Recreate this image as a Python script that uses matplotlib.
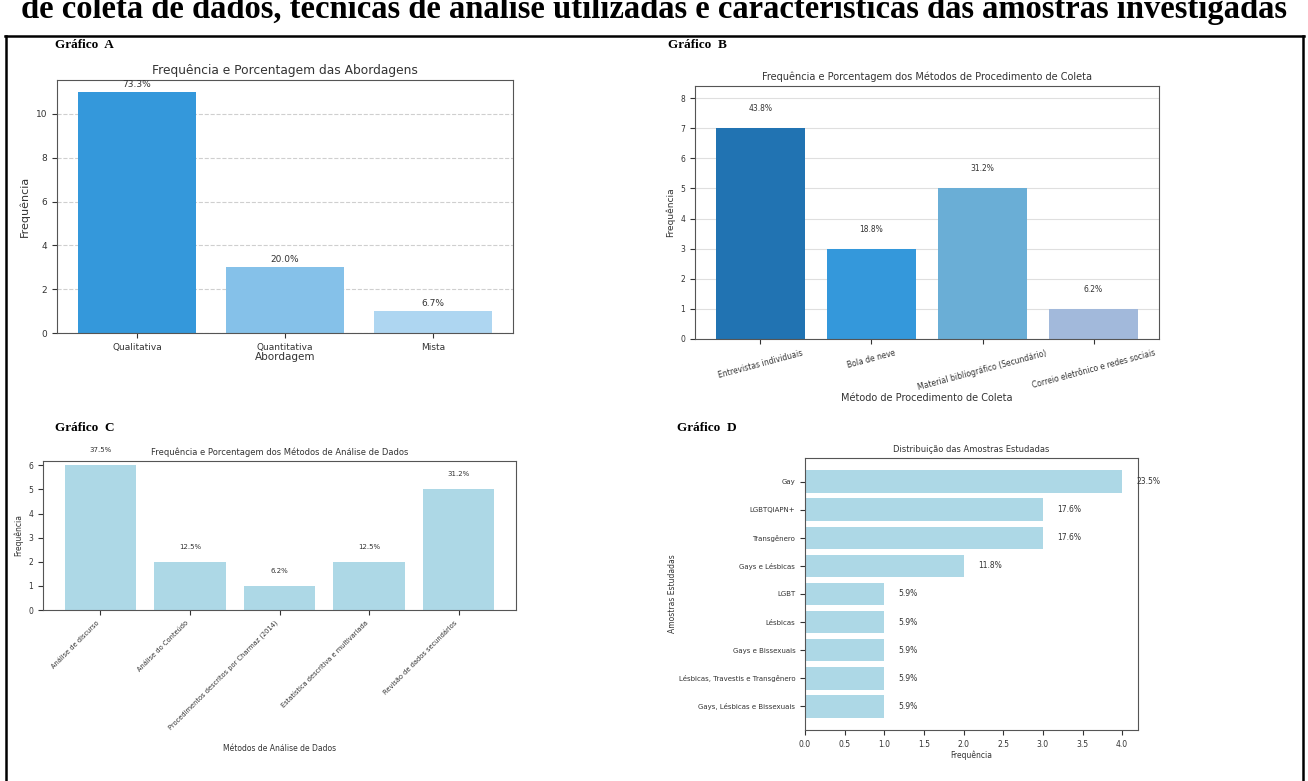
import matplotlib.pyplot as plt
from matplotlib.lines import Line2D

# Gráfico A
abordagens = ['Qualitativa', 'Quantitativa', 'Mista']
freq_abordagens = [11, 3, 1]
pct_abordagens = ['73.3%', '20.0%', '6.7%']

# Gráfico B
metodos_coleta = ['Entrevistas individuais', 'Bola de neve',
                  'Material bibliográfico (Secundário)',
                  'Correio eletrônico e redes sociais']
freq_coleta = [7, 3, 5, 1]
pct_coleta = ['43.8%', '18.8%', '31.2%', '6.2%']

# Gráfico C
metodos_analise = ['Análise de discurso', 'Análise do Conteúdo',
                   'Procedimentos descritos por Charmaz (2014)',
                   'Estatística descritiva e multivariada',
                   'Revisão de dados secundários']
freq_analise = [6, 2, 1, 2, 5]
pct_analise = ['37.5%', '12.5%', '6.2%', '12.5%', '31.2%']

# Gráfico D
amostras = ['Gay', 'LGBTQIAPN+', 'Transgênero', 'Gays e Lésbicas', 'LGBT',
            'Lésbicas', 'Gays e Bissexuais', 'Lésbicas, Travestis e Transgênero',
            'Gays, Lésbicas e Bissexuais']
freq_amostras = [4, 3, 3, 2, 1, 1, 1, 1, 1]
pct_amostras = ['23.5%', '17.6%', '17.6%', '11.8%', '5.9%', '5.9%', '5.9%', '5.9%', '5.9%']

TXT = '#333333'
W, H = 1308, 781
fig = plt.figure(figsize=(13.08, 7.81), dpi=100)

# cabeçalho (cortado no topo, como na figura original) e moldura
fig.text(0.5, 1 - 18 / H, 'de coleta de dados, técnicas de análise utilizadas e características das amostras investigadas',
         ha='center', va='baseline', fontsize=23.5, fontweight='bold', family='Liberation Serif')
for xs, ys in [([5, 1304], [36, 36]), ([6, 6], [36, 781]), ([1303, 1303], [36, 781])]:
    fig.add_artist(Line2D([x / W for x in xs], [1 - y / H for y in ys], color='black', lw=1.8))

def rotulo(x, y, s):
    fig.text(x / W, 1 - y / H, s, fontsize=9.5, fontweight='bold', family='Liberation Serif', va='center')

rotulo(55, 45, 'Gráfico  A')
rotulo(668, 45, 'Gráfico  B')
rotulo(55, 428, 'Gráfico  C')
rotulo(677, 428, 'Gráfico  D')

def estilo(ax):
    for s in ax.spines.values():
        s.set_color('#555555')
    ax.tick_params(colors=TXT)

# ---- A
ax = fig.add_axes([57 / W, 1 - 333 / H, 456 / W, 253 / H])
ax.bar(abordagens, freq_abordagens, color=['#3498db', '#85c1e9', '#aed6f1'], width=0.8)
ax.grid(axis='y', linestyle='--', alpha=0.6)
ax.set_axisbelow(True)
for i, v in enumerate(freq_abordagens):
    ax.text(i, v + 0.15, pct_abordagens[i], ha='center', va='bottom', fontsize=6.5, color=TXT)
ax.set_title('Frequência e Porcentagem das Abordagens', fontsize=8.8, color=TXT, pad=4)
ax.set_xlabel('Abordagem', fontsize=7.5, color=TXT, labelpad=0)
ax.set_ylabel('Frequência', fontsize=8, color=TXT)
ax.tick_params(labelsize=6.5)
estilo(ax)

# ---- B
ax = fig.add_axes([695 / W, 1 - 339 / H, 464 / W, 253 / H])
ax.bar(metodos_coleta, freq_coleta, color=['#2173b2', '#3498db', '#6aaed6', '#a2b9db'], width=0.8)
ax.set_ylim(0, max(freq_coleta) * 1.2)
ax.grid(axis='y', alpha=0.4)
ax.set_axisbelow(True)
for i, v in enumerate(freq_coleta):
    ax.text(i, v + 0.5, pct_coleta[i], ha='center', va='bottom', fontsize=5.5, color=TXT)
ax.set_title('Frequência e Porcentagem dos Métodos de Procedimento de Coleta', fontsize=7, color=TXT, pad=4)
ax.set_xlabel('Método de Procedimento de Coleta', fontsize=7, color=TXT, labelpad=1)
ax.set_ylabel('Frequência', fontsize=6.5, color=TXT)
ax.tick_params(labelsize=5.5)
plt.setp(ax.get_xticklabels(), rotation=15)
estilo(ax)

# ---- C
ax = fig.add_axes([43 / W, 1 - 610 / H, 473 / W, 149 / H])
ax.bar(metodos_analise, freq_analise, color='lightblue', width=0.8)
ax.set_ylim(0, 6.18)
for i, v in enumerate(freq_analise):
    ax.text(i, v + 0.5, pct_analise[i], ha='center', va='bottom', fontsize=5, color=TXT, clip_on=False)
ax.set_title('Frequência e Porcentagem dos Métodos de Análise de Dados', fontsize=6, color=TXT, pad=4)
ax.set_xlabel('Métodos de Análise de Dados', fontsize=5.5, color=TXT, labelpad=9)
ax.set_ylabel('Frequência', fontsize=5.5, color=TXT)
ax.tick_params(axis='y', labelsize=5.5)
ax.tick_params(axis='x', labelsize=4.8)
plt.setp(ax.get_xticklabels(), rotation=45, ha='right')
estilo(ax)

# ---- D
ax = fig.add_axes([805 / W, 1 - 730 / H, 333 / W, 272 / H])
ax.barh(amostras, freq_amostras, color='lightblue', height=0.8)
ax.invert_yaxis()
for i, v in enumerate(freq_amostras):
    ax.text(v + 0.18, i, pct_amostras[i], ha='left', va='center', fontsize=5.5, color=TXT, clip_on=False)
ax.set_title('Distribuição das Amostras Estudadas', fontsize=6, color=TXT, pad=4)
ax.set_xlabel('Frequência', fontsize=5.5, color=TXT, labelpad=1)
ax.set_ylabel('Amostras Estudadas', fontsize=5.5, color=TXT, labelpad=1)
ax.tick_params(axis='y', labelsize=5)
ax.tick_params(axis='x', labelsize=5.5)
estilo(ax)

fig.savefig('out.png', dpi=100)
